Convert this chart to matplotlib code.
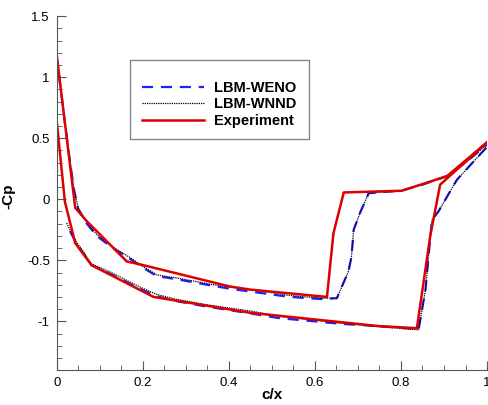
import matplotlib
matplotlib.use('Agg')
import matplotlib.pyplot as plt
from matplotlib.ticker import MultipleLocator

plt.rcParams['font.family'] = ['Liberation Sans', 'DejaVu Sans']

# LBM-WENO (blue dashed)
weno_up_x = [0.0, 0.01, 0.02, 0.03, 0.04, 0.05, 0.07, 0.093, 0.13, 0.167, 0.2, 0.233,
             0.279, 0.318, 0.364, 0.407, 0.45, 0.5, 0.535, 0.58, 0.62, 0.651, 0.678,
             0.685, 0.69, 0.705, 0.725, 0.76, 0.80, 0.85, 0.907, 0.95, 1.0]
weno_up_y = [1.17, 0.88, 0.6, 0.33, 0.08, -0.08, -0.2, -0.3, -0.4, -0.48, -0.56, -0.63,
             -0.655, -0.68, -0.71, -0.735, -0.756, -0.78, -0.797, -0.81, -0.818, -0.81,
             -0.59, -0.47, -0.25, -0.11, 0.05, 0.06, 0.07, 0.12, 0.19, 0.3, 0.45]
weno_lo_x = [0.031, 0.035, 0.046, 0.081, 0.124, 0.194, 0.233, 0.279, 0.35, 0.45, 0.519,
             0.6, 0.659, 0.752, 0.841, 0.857, 0.864, 0.872, 0.887, 0.93, 1.0]
weno_lo_y = [-0.26, -0.29, -0.36, -0.54, -0.61, -0.735, -0.795, -0.835, -0.88, -0.935,
             -0.975, -1.0, -1.02, -1.04, -1.064, -0.74, -0.47, -0.17, -0.1, 0.16, 0.43]

# LBM-WNND (black dotted)
wnnd_up_x = [0.0, 0.01, 0.02, 0.03, 0.04, 0.05, 0.07, 0.093, 0.13, 0.167, 0.2, 0.233,
             0.279, 0.318, 0.364, 0.407, 0.45, 0.5, 0.535, 0.58, 0.62, 0.651, 0.678,
             0.685, 0.69, 0.705, 0.725, 0.76, 0.80, 0.85, 0.907, 0.95, 1.0]
wnnd_up_y = [1.17, 0.88, 0.6, 0.33, 0.08, -0.07, -0.19, -0.29, -0.39, -0.47, -0.55, -0.62,
             -0.645, -0.67, -0.70, -0.72, -0.742, -0.765, -0.785, -0.8, -0.81, -0.81,
             -0.59, -0.47, -0.25, -0.11, 0.05, 0.06, 0.07, 0.12, 0.19, 0.3, 0.45]
wnnd_lo_x = [0.023, 0.035, 0.046, 0.081, 0.124, 0.194, 0.233, 0.279, 0.35, 0.45, 0.519,
             0.6, 0.659, 0.752, 0.841, 0.857, 0.864, 0.872, 0.887, 0.93, 1.0]
wnnd_lo_y = [-0.195, -0.28, -0.35, -0.53, -0.595, -0.72, -0.78, -0.82, -0.865, -0.915,
             -0.96, -0.99, -1.015, -1.045, -1.07, -0.74, -0.47, -0.17, -0.1, 0.16, 0.43]

# Experiment (red), closed loop: upper branch TE -> LE, then lower branch LE -> TE
exp_x = [1.0, 0.907, 0.802, 0.667, 0.643, 0.628, 0.45, 0.403, 0.19, 0.163, 0.07, 0.043, 0.0,
         0.0, 0.019, 0.043, 0.081, 0.225, 0.45, 0.752, 0.837, 0.868, 0.891, 1.0]
exp_y = [0.466, 0.19, 0.07, 0.056, -0.28, -0.80, -0.74, -0.715, -0.53, -0.51, -0.18, -0.07, 1.18,
         0.64, -0.02, -0.36, -0.54, -0.80, -0.93, -1.04, -1.056, -0.30, 0.12, 0.466]

fig = plt.figure(figsize=(4.89, 4.05), dpi=100)
ax = fig.add_axes([0.116, 0.086, 0.880, 0.874])

ax.plot(weno_up_x, weno_up_y, color='#2020ff', lw=1.6, ls=(0, (5, 3.5)), label='LBM-WENO')
ax.plot(weno_lo_x, weno_lo_y, color='#2020ff', lw=1.6, ls=(0, (5, 3.5)))
ax.plot(wnnd_up_x, wnnd_up_y, color='black', lw=0.9, ls=(0, (1, 0.8)), label='LBM-WNND')
ax.plot(wnnd_lo_x, wnnd_lo_y, color='black', lw=0.9, ls=(0, (1, 0.8)))
ax.plot(exp_x, exp_y, color='#dd0000', lw=1.8, label='Experiment')

ax.set_xlim(0, 1)
ax.set_ylim(-1.4, 1.5)
ax.xaxis.set_major_locator(MultipleLocator(0.2))
ax.xaxis.set_minor_locator(MultipleLocator(0.05))
ax.yaxis.set_major_locator(MultipleLocator(0.5))
ax.yaxis.set_minor_locator(MultipleLocator(0.1))
ax.xaxis.set_major_formatter(plt.FuncFormatter(lambda v, p: f'{v:g}'))
ax.yaxis.set_major_formatter(plt.FuncFormatter(lambda v, p: f'{v:g}'))

for s in ['top', 'right']:
    ax.spines[s].set_visible(False)
for s in ['left', 'bottom']:
    ax.spines[s].set_color('#555555')
ax.tick_params(which='both', direction='in', colors='#555555', labelcolor='black', labelsize=9.5)
ax.tick_params(which='major', length=6.5, pad=5)
ax.tick_params(which='minor', length=3.5)

ax.set_xlabel('c/x', fontsize=11, fontweight='bold')
ax.set_ylabel('-Cp', fontsize=11, fontweight='bold')
ax.xaxis.set_label_coords(0.5, -0.05)
ax.yaxis.set_label_coords(-0.095, 0.49)

leg = ax.legend(loc='upper left', bbox_to_anchor=(0.17, 0.875), frameon=True, fancybox=False,
                prop={'weight': 'bold', 'size': 10.5}, handlelength=4.3, borderpad=0.8,
                labelspacing=0.15, borderaxespad=0, handletextpad=0.7,
                title=' ', title_fontsize=5)
leg.get_frame().set_edgecolor('#666666')
leg.get_frame().set_linewidth(1.0)

fig.savefig('out.png', dpi=100)
